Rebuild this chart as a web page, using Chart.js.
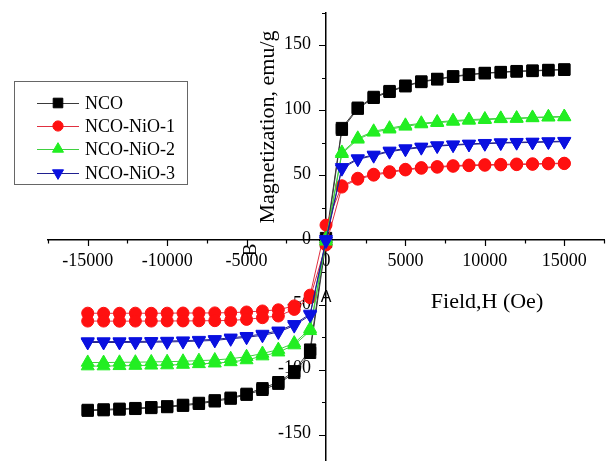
<!DOCTYPE html>
<html>
<head>
<meta charset="utf-8">
<script src="https://cdn.jsdelivr.net/npm/chart.js@4.4.0/dist/chart.umd.min.js"></script>
<style>
  html, body { margin: 0; padding: 0; background: #fff; overflow: hidden; }
  #wrap { position: relative; width: 613px; height: 476px; }
</style>
</head>
<body>
<div id="wrap"><canvas id="loop"></canvas></div>
<script>
// applied field, Oe
const fieldOe = [-15000, -14000, -13000, -12000, -11000, -10000, -9000, -8000, -7000, -6000,
  -5000, -4000, -3000, -2000, -1000, 0, 1000, 2000, 3000, 4000, 5000, 6000, 7000, 8000,
  9000, 10000, 11000, 12000, 13000, 14000, 15000];

// magnetization (emu/g), listed in the order of fieldOe
const ncoDown = [-131.0, -130.6, -130.1, -129.6, -128.9, -128.2, -127.1, -125.6, -123.6, -121.6,
  -118.6, -114.3, -109.6, -101.2, -84.5, 1.5, 86.3, 102.0, 110.3, 114.8, 119.0, 122.2, 124.2,
  126.2, 127.7, 128.8, 129.5, 130.2, 130.6, 131.1, 131.5];
const ncoUp = [-131.6, -131.2, -130.7, -130.2, -129.5, -128.8, -127.8, -126.3, -124.4, -122.3,
  -119.3, -115.5, -110.8, -102.5, -87.0, -1.5, 85.0, 101.2, 109.6, 114.2, 118.5, 121.8, 123.8,
  125.8, 127.3, 128.5, 129.2, 129.9, 130.3, 130.8, 131.2];
const nio1Down = [-56.4, -56.5, -56.5, -56.4, -56.5, -56.4, -56.3, -56.3, -56.2, -56.0,
  -55.5, -54.7, -53.8, -50.8, -42.5, 11.5, 41.8, 47.6, 50.7, 52.7, 54.5, 55.8, 56.6,
  57.3, 57.8, 58.1, 58.3, 58.6, 58.8, 59.1, 59.2];
const nio1Up = [-62.5, -62.5, -62.6, -62.5, -62.5, -62.4, -62.4, -62.3, -62.2, -62.0,
  -61.2, -59.9, -58.6, -53.5, -44.5, -3.8, 40.8, 46.9, 50.0, 52.0, 54.0, 55.3, 56.1,
  56.8, 57.3, 57.6, 57.9, 58.1, 58.3, 58.7, 58.9];
const nio2Down = [-94.4, -94.5, -94.3, -94.2, -94.0, -93.8, -93.5, -93.0, -92.5, -91.5,
  -90.0, -87.5, -84.5, -79.5, -68.5, 1.0, 67.5, 78.4, 83.8, 86.2, 88.4, 90.0, 91.0,
  92.0, 92.8, 93.3, 93.8, 94.0, 94.5, 95.0, 95.2];
const nio2Up = [-97.2, -97.2, -97.0, -96.8, -96.6, -96.4, -96.0, -95.5, -95.0, -94.0,
  -92.5, -89.5, -86.5, -81.0, -70.0, -1.0, 66.5, 77.6, 83.0, 85.4, 87.6, 89.4, 90.4,
  91.4, 92.2, 92.7, 93.4, 93.6, 94.1, 94.6, 94.8];
const nio3Down = [-78.3, -78.3, -78.3, -78.2, -78.1, -77.9, -77.6, -77.2, -76.6, -75.4,
  -74.2, -72.5, -70.0, -65.0, -57.0, 0.5, 56.0, 62.8, 65.6, 68.7, 70.5, 71.8, 72.8,
  73.5, 74.1, 74.6, 75.1, 75.4, 75.6, 75.9, 76.2];
const nio3Up = [-79.0, -79.0, -79.0, -78.9, -78.8, -78.6, -78.3, -77.9, -77.4, -76.2,
  -75.0, -73.5, -71.0, -66.0, -58.0, -0.8, 55.0, 62.2, 65.0, 68.1, 69.9, 71.2, 72.4,
  73.1, 73.7, 74.2, 74.7, 75.0, 75.2, 75.5, 75.8];

const seriesNames = ["NCO", "NCO-NiO-1", "NCO-NiO-2", "NCO-NiO-3"];

const SERIF = "'Liberation Serif', 'Times New Roman', serif";

// one closed loop: sweep down from +15000, then back up
function loop(down, up) {
  const pts = [];
  for (let i = fieldOe.length - 1; i >= 0; i--) pts.push({ x: fieldOe[i], y: down[i] });
  for (let i = 0; i < fieldOe.length; i++) pts.push({ x: fieldOe[i], y: up[i] });
  return pts;
}

function series(label, down, up, fill, line, style, radius, rot, order) {
  return {
    label: label,
    data: loop(down, up),
    showLine: true,
    borderColor: line,
    borderWidth: 1,
    backgroundColor: fill,
    pointBackgroundColor: fill,
    pointBorderColor: fill,
    pointBorderWidth: 1,
    pointStyle: style,
    pointRadius: radius,
    pointRotation: rot,
    order: order
  };
}

const noPad = scale => {
  scale.paddingLeft = 0; scale.paddingRight = 0;
  scale.paddingTop = 0; scale.paddingBottom = 0;
};

// ticks, tick labels, axis titles and the legend drawn by hand
const decor = {
  id: "decor",
  beforeDatasetsDraw(chart) {
    const ctx = chart.ctx;
    const xs = chart.scales.x, ys = chart.scales.y;
    const x0 = xs.getPixelForValue(0), y0 = ys.getPixelForValue(0);
    ctx.save();
    ctx.strokeStyle = "#000";
    ctx.lineWidth = 1.2;
    ctx.beginPath();
    xs.ticks.forEach(t => {
      const px = Math.round(xs.getPixelForValue(t.value)) + 0.5;
      const len = t.value % 5000 === 0 ? 6 : 3.5;
      ctx.moveTo(px, y0); ctx.lineTo(px, y0 + len);
    });
    ys.ticks.forEach(t => {
      const py = Math.round(ys.getPixelForValue(t.value)) + 0.5;
      const len = t.value % 50 === 0 ? 7 : 4;
      ctx.moveTo(x0, py); ctx.lineTo(x0 - len, py);
    });
    ctx.stroke();

    ctx.fillStyle = "#000";
    ctx.font = "18px " + SERIF;
    ctx.textBaseline = "middle";
    ctx.textAlign = "center";
    xs.ticks.forEach(t => {
      if (t.value % 5000 === 0 && Math.abs(t.value) <= 15000) {
        ctx.fillText(String(t.value), xs.getPixelForValue(t.value), y0 + 21);
      }
    });
    ctx.textAlign = "right";
    ys.ticks.forEach(t => {
      if (t.value % 50 === 0 && Math.abs(t.value) <= 150) {
        ctx.fillText(String(t.value), x0 - 15, ys.getPixelForValue(t.value) - 1);
      }
    });

    ctx.font = "22px " + SERIF;
    ctx.textAlign = "center";
    ctx.fillText("Field,H (Oe)", 487, 302);
    ctx.translate(268, 127);
    ctx.rotate(-Math.PI / 2);
    ctx.fillText("Magnetization, emu/g", 0, 0);
    ctx.restore();
  },
  afterDraw(chart) {
    const ctx = chart.ctx;
    ctx.save();
    // stray labels left on the figure
    ctx.fillStyle = "#000";
    ctx.textAlign = "center";
    ctx.textBaseline = "middle";
    ctx.font = "16px 'Liberation Sans', Arial, sans-serif";
    ctx.fillText("A", 326, 298);
    ctx.font = "19px " + SERIF;
    ctx.translate(251, 250);
    ctx.rotate(-Math.PI / 2);
    ctx.fillText("B", 0, 0);
    ctx.restore();

    // legend box
    ctx.save();
    ctx.fillStyle = "#fff";
    ctx.fillRect(14, 81, 173, 103);
    ctx.strokeStyle = "#666";
    ctx.lineWidth = 1;
    ctx.strokeRect(14.5, 81.5, 173, 103);
    const rows = [103, 126, 149, 173];
    chart.data.datasets.forEach((ds, i) => {
      const y = rows[i];
      ctx.strokeStyle = ds.borderColor;
      ctx.lineWidth = 1;
      ctx.beginPath();
      ctx.moveTo(37, y + 0.5); ctx.lineTo(79, y + 0.5);
      ctx.stroke();
      ctx.fillStyle = ds.pointBackgroundColor;
      ctx.strokeStyle = ds.pointBorderColor;
      Chart.helpers.drawPoint(ctx, {
        pointStyle: ds.pointStyle,
        rotation: ds.pointRotation,
        radius: ds.pointRadius * 0.85,
        borderWidth: 1
      }, 58, y);
      ctx.fillStyle = "#000";
      ctx.font = "18px " + SERIF;
      ctx.textAlign = "left";
      ctx.textBaseline = "middle";
      ctx.fillText(seriesNames[i], 85, y + 1);
    });
    ctx.restore();
  }
};

new Chart(document.getElementById("loop"), {
  type: "scatter",
  data: {
    datasets: [
      series(seriesNames[0], ncoDown, ncoUp, "#000000", "#3a3a3a", "rect", 8, 0, 4),
      series(seriesNames[1], nio1Down, nio1Up, "#ff1010", "#e03040", "circle", 6, 0, 3),
      series(seriesNames[2], nio2Down, nio2Up, "#22ee22", "#40d040", "triangle", 7.5, 0, 2),
      series(seriesNames[3], nio3Down, nio3Up, "#0a10e0", "#202090", "triangle", 7.5, 180, 1)
    ]
  },
  options: {
    responsive: true,
    maintainAspectRatio: false,
    animation: false,
    layout: { padding: { left: 48, right: 2, top: 13, bottom: 3 } },
    plugins: { legend: { display: false }, tooltip: { enabled: false } },
    scales: {
      x: {
        type: "linear",
        position: { y: 0 },
        min: -17500,
        max: 17500,
        afterFit: noPad,
        grid: { display: true, drawOnChartArea: false, drawTicks: false },
        border: { display: true, color: "#000", width: 1.5 },
        ticks: { stepSize: 2500, autoSkip: false, display: false }
      },
      y: {
        type: "linear",
        position: { x: 0 },
        min: -175,
        max: 175,
        afterFit: noPad,
        grid: { display: true, drawOnChartArea: false, drawTicks: false },
        border: { display: true, color: "#000", width: 1.5 },
        ticks: { stepSize: 25, autoSkip: false, display: false }
      }
    }
  },
  plugins: [decor]
});
</script>
</body>
</html>
